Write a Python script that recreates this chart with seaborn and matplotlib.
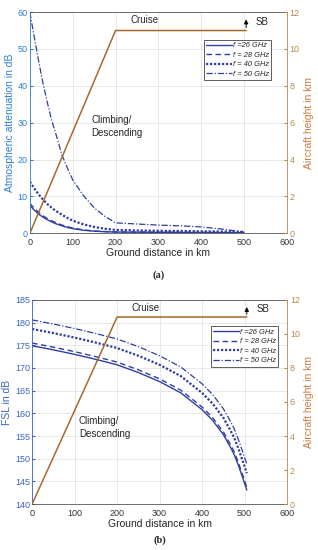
import numpy as np
import pandas as pd
import matplotlib
matplotlib.use("Agg")
import matplotlib.pyplot as plt
import seaborn as sns

# ground distance grid for the attenuation plot (km)
dist_att = [0, 5, 10, 20, 30, 40, 50, 60, 75, 90, 100, 125, 150, 175, 200, 250, 300, 350, 400, 450, 500]
att_26 = [7.5, 6.9, 6.3, 5.2, 4.4, 3.7, 3.1, 2.6, 2.0, 1.5, 1.25, 0.8, 0.55, 0.4, 0.3, 0.27, 0.23, 0.2, 0.18, 0.16, 0.13]
att_28 = [8.1, 7.4, 6.8, 5.7, 4.8, 4.0, 3.4, 2.9, 2.2, 1.7, 1.4, 0.9, 0.6, 0.45, 0.35, 0.3, 0.25, 0.22, 0.2, 0.18, 0.15]
att_40 = [14.0, 13.1, 12.2, 10.6, 9.2, 8.0, 7.0, 6.1, 5.0, 4.0, 3.4, 2.4, 1.7, 1.2, 0.9, 0.75, 0.65, 0.6, 0.5, 0.45, 0.35]
att_50 = [60.0, 56.6, 53.4, 47.0, 41.0, 35.8, 31.0, 27.2, 21.2, 17.0, 14.5, 10.2, 6.9, 4.6, 2.8, 2.5, 2.2, 2.0, 1.7, 1.1, 0.3]

# ground distance grid for the free space loss plot (km)
dist_fsl = [0, 50, 100, 150, 200, 250, 300, 350, 400, 425, 450, 465, 475, 485, 495, 505]
fsl_26 = [174.9, 174.0, 173.0, 171.9, 170.7, 169.0, 167.0, 164.5, 160.8, 158.4, 155.3, 152.8, 151.0, 148.6, 145.9, 143.1]
fsl_28 = [175.5, 174.6, 173.6, 172.5, 171.3, 169.6, 167.6, 165.1, 161.4, 159.0, 155.9, 153.4, 151.6, 149.2, 146.5, 143.7]
fsl_40 = [178.6, 177.7, 176.7, 175.6, 174.4, 172.7, 170.7, 168.2, 164.5, 162.1, 159.0, 156.5, 154.7, 152.3, 149.6, 146.8]
fsl_50 = [180.6, 179.7, 178.7, 177.6, 176.4, 174.7, 172.7, 170.2, 166.5, 164.1, 161.0, 158.5, 156.7, 154.3, 151.6, 148.8]

# aircraft flight profile
prof_dist = [0, 200, 505]
prof_height = [0, 11, 11]

labels = ["f =26 GHz", "f = 28 GHz", "f = 40 GHz", "f = 50 GHz"]

sns.set_style("white")
plt.rcParams['font.family'] = ['Liberation Sans', 'DejaVu Sans']

curve_col = "#2f3f9e"
left_col = "#2f7fd0"
left_col_b = "#3a64c4"
right_col = "#b58a50"
label_right = "#d07a3c"
prof_col = "#a56a2c"
styles = [dict(ls="-", lw=1.0), dict(ls=(0, (4, 2.5)), lw=1.0),
          dict(ls=(0, (1, 0.8)), lw=1.6), dict(ls=(0, (5, 1.5, 1, 1.5)), lw=0.9)]


def make_panel(fig, rect, dist, series, ylim, yticks, ylabel, lcol, tag, climb_xy, leg_anchor):
    ax = fig.add_axes(rect)
    df = pd.DataFrame({"dist": dist})
    for lab, vals, st in zip(labels, series, styles):
        df["v"] = vals
        sns.lineplot(data=df, x="dist", y="v", ax=ax, color=curve_col, label=lab,
                     linestyle=st["ls"], linewidth=st["lw"])
    ax.set_xlim(0, 600)
    ax.set_ylim(*ylim)
    ax.set_xticks(range(0, 601, 100))
    ax.set_yticks(yticks)
    ax.grid(True, color="#e4e4e4", lw=0.6)
    ax.set_xlabel("Ground distance in km", fontsize=7.5, labelpad=1)
    ax.set_ylabel(ylabel, fontsize=7.5, color=lcol, labelpad=2)
    ax.tick_params(axis="x", labelsize=6.5, colors="#333333", length=2, pad=3.5, direction="in")
    ax.tick_params(axis="y", labelsize=6.5, colors=lcol, length=2, pad=1.5, direction="in")
    for s in ["top", "bottom"]:
        ax.spines[s].set_color("#555555")
        ax.spines[s].set_linewidth(0.6)
    ax.spines["left"].set_color(lcol)
    ax.spines["left"].set_linewidth(0.6)
    ax.spines["right"].set_visible(False)

    leg = ax.legend(loc="upper right", bbox_to_anchor=leg_anchor,
                    handlelength=3.4, handletextpad=0.15, labelspacing=0.3,
                    borderpad=0.3, borderaxespad=0, fancybox=False, framealpha=1,
                    prop={"style": "italic", "size": 5.4})
    leg.get_frame().set_edgecolor("#444444")
    leg.get_frame().set_linewidth(0.6)

    ax2 = ax.twinx()
    sns.lineplot(x=prof_dist, y=prof_height, ax=ax2, color=prof_col, lw=1.1)
    ax2.set_ylim(0, 12)
    ax2.set_yticks(range(0, 13, 2))
    ax2.set_ylabel("Aircraft height in km", fontsize=7.5, color=label_right, labelpad=3)
    ax2.tick_params(axis="y", labelsize=6.5, colors=right_col, length=2, pad=2, direction="in")
    ax2.spines["right"].set_color(right_col)
    ax2.spines["right"].set_linewidth(0.6)
    for s in ["top", "bottom", "left"]:
        ax2.spines[s].set_visible(False)
    ax2.annotate("", xy=(505, 11.75), xytext=(505, 11),
                 arrowprops=dict(arrowstyle="-|>", color="black", lw=0.7, mutation_scale=6))
    ax2.text(528, 11.45, "SB", fontsize=7, va="center", ha="left")
    ax2.text(268, 11.55, "Cruise", fontsize=7, va="center", ha="center")
    ax2.text(climb_xy[0], climb_xy[1], "Climbing/\nDescending", fontsize=7,
             va="center", ha="left", linespacing=1.3)
    fig.text(rect[0] + rect[2] / 2 + 0.002, tag[1], tag[0], fontsize=7.5, fontweight="bold",
             family="Liberation Serif", ha="center", va="center")
    return ax


fig = plt.figure(figsize=(3.18, 5.5), dpi=100)

make_panel(fig, [0.094, 0.576, 0.808, 0.402], dist_att, [att_26, att_28, att_40, att_50],
           (0, 60), range(0, 61, 10), "Atmospheric attenuation in dB", left_col,
           ("(a)", 1 - 275 / 550), (143, 5.8), (0.94, 0.875))
make_panel(fig, [0.101, 0.0836, 0.802, 0.371], dist_fsl, [fsl_26, fsl_28, fsl_40, fsl_50],
           (140, 185), range(140, 186, 5), "FSL in dB", left_col_b,
           ("(b)", 1 - 540 / 550), (110, 4.5), (0.965, 0.87))

fig.savefig("out.png", dpi=100)
